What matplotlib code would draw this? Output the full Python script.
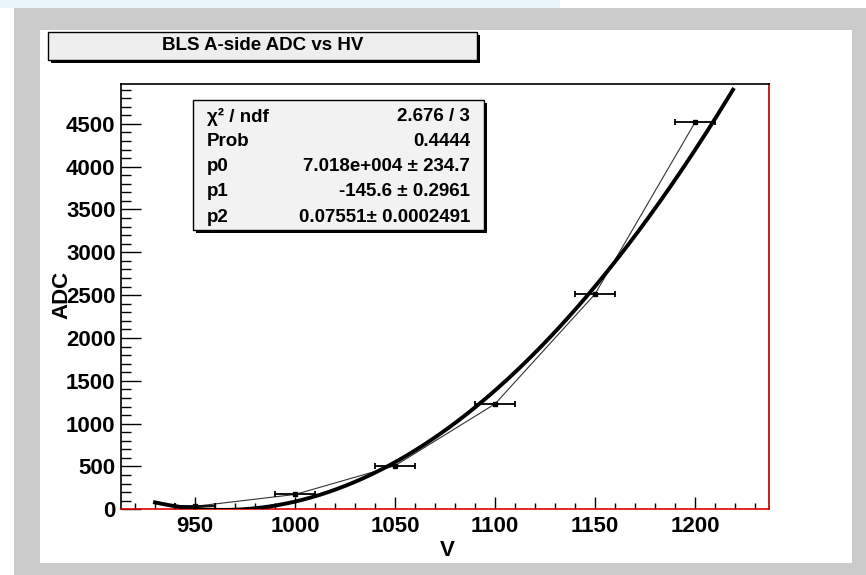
import numpy as np
import matplotlib
matplotlib.use("Agg")
import matplotlib.pyplot as plt
from matplotlib.patches import Rectangle
from matplotlib.ticker import MultipleLocator

# measured points (HV in volts, ADC counts), x errors +-10 V
hv = [950, 1000, 1050, 1100, 1150, 1200]
hv_err = [10, 10, 10, 10, 10, 10]
adc = [35, 173, 509, 1230, 2512, 4516]

# pol2 fit results as printed in the stat box
p0, p1, p2 = 7.018e4, -145.6, 0.07551
fit_lo, fit_hi = 930, 1219

stat_names = ["χ² / ndf", "Prob", "p0", "p1", "p2"]
stat_values = ["2.676 / 3", "0.4444", "7.018e+004 ± 234.7",
               "-145.6 ± 0.2961", "0.07551± 0.0002491"]

plt.rcParams['font.family'] = ['Liberation Sans', 'DejaVu Sans']
plt.rcParams['font.weight'] = 'bold'

W, H = 866, 575
fig = plt.figure(figsize=(8.66, 5.75), dpi=100)
fig.patch.set_facecolor('white')


def fx(x):
    return x / W


def fy(y):
    return 1 - y / H


def box(x0, y0, x1, y1, fc, ec='none', lw=0, z=-10):
    r = Rectangle((fx(x0), fy(y1)), (x1 - x0) / W, (y1 - y0) / H,
                  transform=fig.transFigure, fc=fc, ec=ec, lw=lw, zorder=z)
    fig.add_artist(r)


# page background, grey canvas border, white pad
box(0, 0, 560, 8, '#e9f5fb', z=-14)
box(14, 8, 866, 575, '#cbcbcb', z=-13)
box(40, 30, 852, 563, 'white', z=-12)

ax = fig.add_axes([fx(121), fy(509.3), (769 - 121) / W, (509.3 - 84) / H])
ax.set_facecolor('white')

xs = np.linspace(fit_lo, fit_hi, 400)
ax.plot(xs, p0 + p1 * xs + p2 * xs ** 2, color='black', lw=2.8, zorder=4)
ax.plot(hv, adc, color='#333333', lw=0.8, zorder=3)
ax.errorbar(hv, adc, xerr=hv_err, fmt='s', ms=2.5, color='black',
            elinewidth=1.3, capsize=2.2, capthick=1.3, zorder=5)

ax.set_xlim(913, 1237)
ax.set_ylim(0, 4965)

ax.xaxis.set_major_locator(MultipleLocator(50))
ax.xaxis.set_minor_locator(MultipleLocator(10))
ax.yaxis.set_major_locator(MultipleLocator(500))
ax.yaxis.set_minor_locator(MultipleLocator(100))
ax.tick_params(axis='x', which='major', direction='in', length=8.6, width=1, pad=5, labelsize=16)
ax.tick_params(axis='x', which='minor', direction='in', length=4.3, width=1)
ax.tick_params(axis='y', which='major', direction='in', length=14.4, width=1, pad=4, labelsize=16)
ax.tick_params(axis='y', which='minor', direction='in', length=7.2, width=1)
for lab in ax.get_xticklabels() + ax.get_yticklabels():
    lab.set_fontweight('bold')

ax.spines['left'].set_color('black')
ax.spines['top'].set_color('black')
ax.spines['right'].set_color('#b00000')
ax.spines['bottom'].set_color('#e00000')
for s in ax.spines.values():
    s.set_linewidth(1.2)

fig.text(fx(447), fy(551), "V", ha='center', va='center', fontsize=16, fontweight='bold')
fig.text(fx(62), fy(295), "ADC", ha='center', va='center', rotation=90,
         fontsize=16, fontweight='bold')

# title box with shadow
box(51, 35, 480, 63, 'black', z=5)
box(48, 32, 477, 60, '#eeeeee', ec='black', lw=1, z=6)
fig.text(fx(262.5), fy(46), "BLS A-side ADC vs HV", ha='center', va='center',
         fontsize=13.5, fontweight='bold', zorder=7)

# stat box with shadow
box(196, 103, 487, 233, 'black', z=5)
box(193, 100, 484, 230, '#f2f2f2', ec='black', lw=1, z=6)
rows_y = [116.7, 141.7, 166.7, 191.7, 217]
for name, val, yy in zip(stat_names, stat_values, rows_y):
    fig.text(fx(207), fy(yy), name, ha='left', va='center', fontsize=13.5,
             fontweight='bold', zorder=7)
    fig.text(fx(470), fy(yy), val, ha='right', va='center', fontsize=13.5,
             fontweight='bold', zorder=7)

fig.savefig("out.png", dpi=100)
